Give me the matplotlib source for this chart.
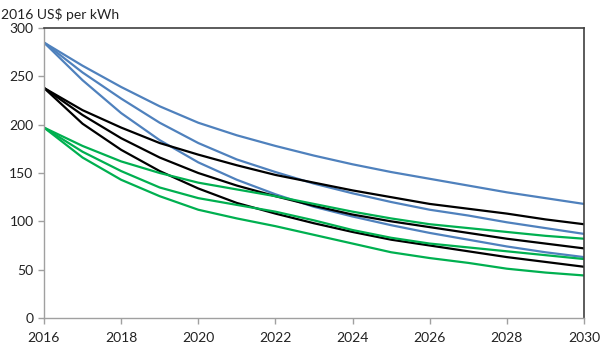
import matplotlib
matplotlib.use('Agg')
import matplotlib.pyplot as plt
import numpy as np

plt.rcParams['font.family'] = ['Lato', 'DejaVu Sans']

YEARS = np.arange(2016, 2031)

# battery pack cost paths, 2016 US$ per kWh
BLUE_HIGH = [285, 261, 239, 219, 202, 189, 178, 168, 159, 151, 144, 137, 130, 124, 118]
BLUE_MID  = [285, 254, 227, 202, 181, 164, 151, 139, 129, 120, 112, 106, 99, 93, 87]
BLUE_LOW  = [285, 246, 212, 184, 161, 143, 128, 115, 105, 96, 88, 81, 74, 68, 63]

BLACK_HIGH = [238, 215, 197, 181, 169, 158, 148, 140, 132, 125, 118, 113, 108, 102, 97]
BLACK_MID  = [238, 210, 186, 166, 150, 137, 126, 116, 107, 100, 94, 88, 82, 77, 72]
BLACK_LOW  = [238, 201, 174, 152, 134, 119, 108, 98, 89, 81, 75, 69, 63, 58, 53]

GREEN_HIGH = [197, 178, 162, 150, 140, 133, 126, 118, 110, 103, 97, 93, 89, 85, 82]
GREEN_MID  = [197, 172, 152, 135, 124, 117, 110, 101, 91, 83, 77, 73, 69, 65, 61]
GREEN_LOW  = [197, 166, 143, 126, 112, 103, 95, 86, 77, 68, 62, 57, 51, 47, 44]

BLUE, BLACK, GREEN = '#4F81BD', '#000000', '#00B050'

fig = plt.figure(figsize=(6, 3.45), dpi=100)
ax = fig.add_axes([0.0733, 0.0783, 0.9, 0.8405])

for series, c in [(BLUE_HIGH, BLUE), (BLUE_MID, BLUE), (BLUE_LOW, BLUE),
                  (BLACK_HIGH, BLACK), (BLACK_MID, BLACK), (BLACK_LOW, BLACK),
                  (GREEN_HIGH, GREEN), (GREEN_MID, GREEN), (GREEN_LOW, GREEN)]:
    ax.plot(YEARS, series, color=c, lw=1.6, solid_capstyle='round',
            solid_joinstyle='round')

ax.set_xlim(2016, 2030)
ax.set_ylim(0, 300)
ax.set_xticks(np.arange(2016, 2031, 2))
ax.set_yticks(np.arange(0, 301, 50))
ax.tick_params(axis='both', direction='out', length=4, width=1, color='#A0A0A0',
               labelsize=10, labelcolor='#222222')
ax.tick_params(axis='x', pad=6)

for side in ['left', 'bottom']:
    ax.spines[side].set_color('#A0A0A0')
    ax.spines[side].set_linewidth(1)
for side in ['top', 'right']:
    ax.spines[side].set_color('#404040')
    ax.spines[side].set_linewidth(1.2)

fig.text(0.002, 0.958, '2016 US$ per kWh', fontsize=10, color='#222222',
         ha='left', va='center')

plt.savefig('out.png', dpi=100)
plt.close()
